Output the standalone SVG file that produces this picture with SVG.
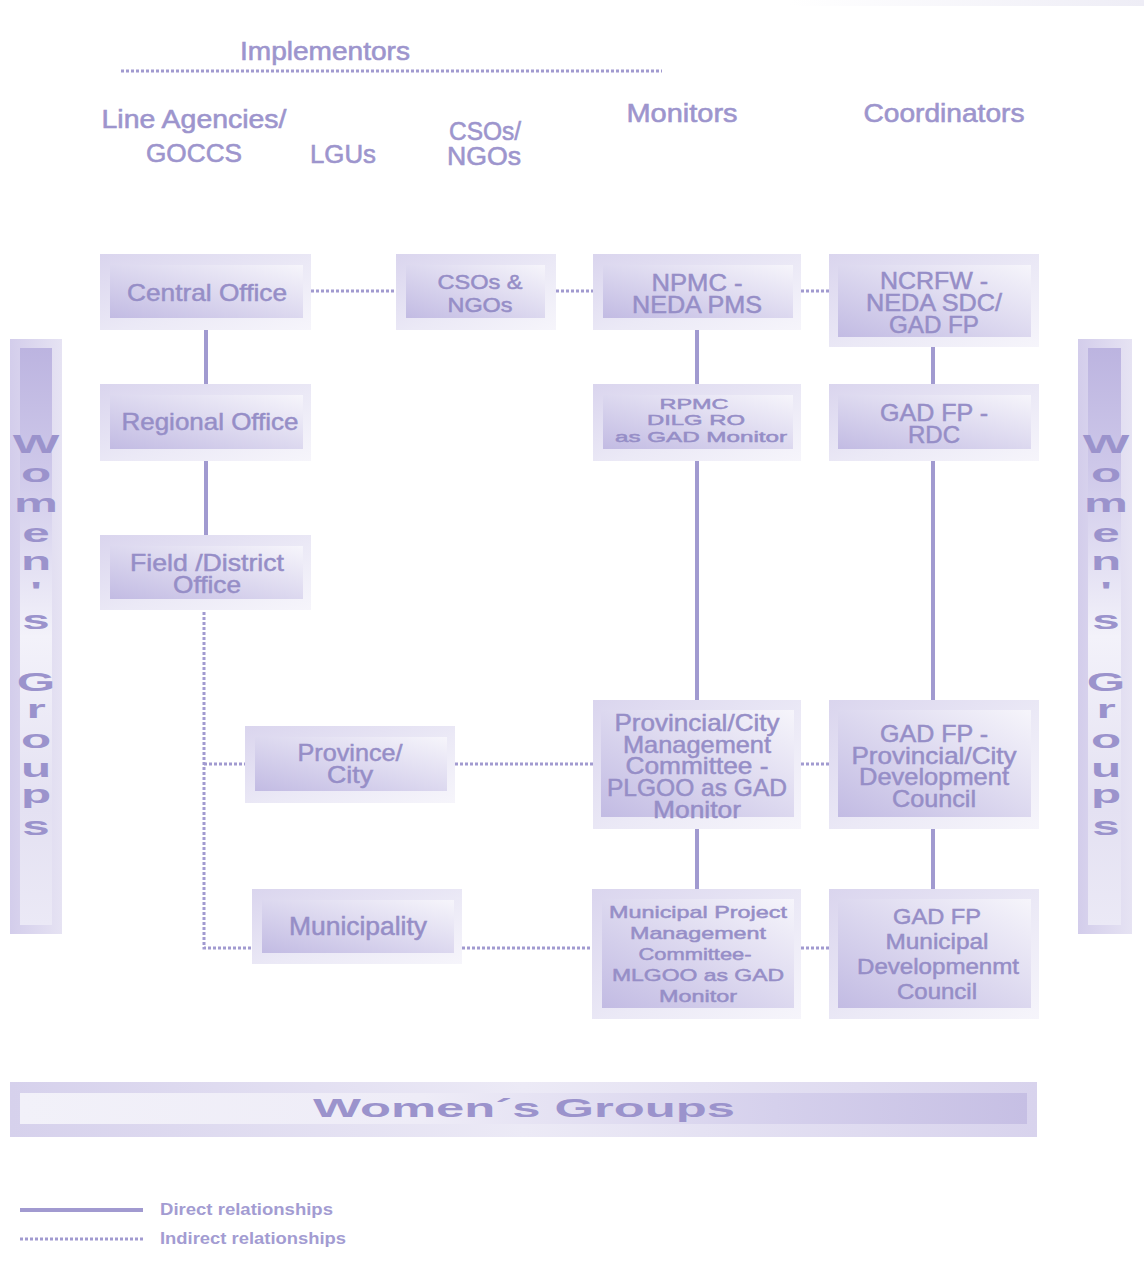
<svg xmlns="http://www.w3.org/2000/svg" width="1144" height="1270" viewBox="0 0 1144 1270">
<defs>
<linearGradient id="outerG" x1="0" y1="0" x2="1" y2="1">
<stop offset="0" stop-color="#dad5ee"/><stop offset="0.55" stop-color="#ebe9f6"/><stop offset="1" stop-color="#f6f5fb"/>
</linearGradient>
<linearGradient id="innerG" x1="0" y1="1" x2="1" y2="0">
<stop offset="0" stop-color="#c2bbe3"/><stop offset="0.5" stop-color="#dcd8ef"/><stop offset="1" stop-color="#f6f5fb"/>
</linearGradient>
<linearGradient id="vOuter" x1="0" y1="0" x2="1" y2="0">
<stop offset="0" stop-color="#d3cdeb"/><stop offset="1" stop-color="#e6e3f3"/>
</linearGradient>
<linearGradient id="vInner" x1="0" y1="0" x2="0" y2="1">
<stop offset="0" stop-color="#bcb4e0"/><stop offset="0.2" stop-color="#cdc7e9"/><stop offset="0.5" stop-color="#f3f2fa"/><stop offset="0.8" stop-color="#e4e1f2"/><stop offset="1" stop-color="#ebe9f6"/>
</linearGradient>
<linearGradient id="hOuter" x1="0" y1="0" x2="1" y2="0">
<stop offset="0" stop-color="#d6d1ec"/><stop offset="0.5" stop-color="#eceaf6"/><stop offset="1" stop-color="#d8d3ed"/>
</linearGradient>
<linearGradient id="hInner" x1="0" y1="0" x2="1" y2="0">
<stop offset="0" stop-color="#f2f1f9"/><stop offset="0.4" stop-color="#eeecf7"/><stop offset="0.75" stop-color="#d5d0ec"/><stop offset="1" stop-color="#c6bfe4"/>
</linearGradient>
<linearGradient id="topG" x1="0" y1="0" x2="1" y2="0">
<stop offset="0" stop-color="#ffffff"/><stop offset="1" stop-color="#eeedf6"/>
</linearGradient>
</defs>
<style>
.o{fill:url(#outerG)}
.i{fill:url(#innerG)}
.t{font-family:"Liberation Sans",Arial,sans-serif;fill:#968ec7;stroke:#968ec7;stroke-width:0.5;text-anchor:middle}
.h{font-family:"Liberation Sans",Arial,sans-serif;fill:#9d95cd;stroke:#9d95cd;stroke-width:0.6;font-size:26px;text-anchor:middle}
.w{font-family:"Liberation Sans",Arial,sans-serif;font-weight:bold;fill:#9b93cc;font-size:26px;text-anchor:middle}
.s{stroke:#a19ad0;stroke-width:4;fill:none}
.d{stroke:#a19ad0;stroke-width:3;stroke-dasharray:3 2;fill:none}
.l{font-family:"Liberation Sans",Arial,sans-serif;font-weight:bold;fill:#a39cd2;font-size:17px}
</style>
<rect x="790" y="0" width="354" height="6" fill="url(#topG)"/>

<g id="headers">
<text class="h" x="325" y="60" textLength="170" lengthAdjust="spacingAndGlyphs">Implementors</text>
<line class="d" x1="121" y1="71" x2="662" y2="71"/>
<text class="h" x="194" y="128" textLength="185" lengthAdjust="spacingAndGlyphs">Line Agencies/</text>
<text class="h" x="194" y="162" textLength="96" lengthAdjust="spacingAndGlyphs">GOCCS</text>
<text class="h" x="343" y="163" textLength="66" lengthAdjust="spacingAndGlyphs">LGUs</text>
<text class="h" x="485" y="140" font-size="25" textLength="72" lengthAdjust="spacingAndGlyphs">CSOs/</text>
<text class="h" x="484" y="165" font-size="25" textLength="74" lengthAdjust="spacingAndGlyphs">NGOs</text>
<text class="h" x="682" y="122" textLength="111" lengthAdjust="spacingAndGlyphs">Monitors</text>
<text class="h" x="944" y="122" textLength="161" lengthAdjust="spacingAndGlyphs">Coordinators</text>
</g>

<g id="connectors">
<line class="s" x1="206" y1="330" x2="206" y2="384"/>
<line class="s" x1="206" y1="461" x2="206" y2="535"/>
<polyline class="d" points="204,612 204,948 252,948"/>
<line class="d" x1="204" y1="764" x2="245" y2="764"/>
<line class="d" x1="311" y1="291" x2="396" y2="291"/>
<line class="d" x1="556" y1="291" x2="593" y2="291"/>
<line class="d" x1="801" y1="291" x2="829" y2="291"/>
<line class="s" x1="697" y1="330" x2="697" y2="384"/>
<line class="s" x1="697" y1="461" x2="697" y2="700"/>
<line class="s" x1="697" y1="829" x2="697" y2="889"/>
<line class="s" x1="933" y1="347" x2="933" y2="384"/>
<line class="s" x1="933" y1="461" x2="933" y2="700"/>
<line class="s" x1="933" y1="829" x2="933" y2="889"/>
<line class="d" x1="455" y1="764" x2="593" y2="764"/>
<line class="d" x1="801" y1="764" x2="829" y2="764"/>
<line class="d" x1="462" y1="948" x2="592" y2="948"/>
<line class="d" x1="801" y1="948" x2="829" y2="948"/>
</g>

<g id="central-office">
<rect class="o" x="100" y="254" width="211" height="76"/><rect class="i" x="110" y="265" width="193" height="53"/>
<text class="t" x="207" y="301" font-size="24" textLength="160" lengthAdjust="spacingAndGlyphs">Central Office</text>
</g>
<g id="regional-office">
<rect class="o" x="100" y="384" width="211" height="77"/><rect class="i" x="110" y="395" width="193" height="54"/>
<text class="t" x="210" y="430" font-size="24" textLength="177" lengthAdjust="spacingAndGlyphs">Regional Office</text>
</g>
<g id="field-office">
<rect class="o" x="100" y="535" width="211" height="75"/><rect class="i" x="110" y="546" width="193" height="53"/>
<text class="t" font-size="24"><tspan x="207" y="571" textLength="154" lengthAdjust="spacingAndGlyphs">Field /District</tspan><tspan x="207" y="593" textLength="68" lengthAdjust="spacingAndGlyphs">Office</tspan></text>
</g>
<g id="csos-ngos">
<rect class="o" x="396" y="254" width="160" height="76"/><rect class="i" x="406" y="265" width="139" height="53"/>
<text class="t" font-size="20"><tspan x="480" y="289" textLength="85" lengthAdjust="spacingAndGlyphs">CSOs &amp;</tspan><tspan x="480" y="312" textLength="65" lengthAdjust="spacingAndGlyphs">NGOs</tspan></text>
</g>
<g id="npmc">
<rect class="o" x="593" y="254" width="208" height="76"/><rect class="i" x="603" y="265" width="190" height="53"/>
<text class="t" font-size="24"><tspan x="697" y="291" textLength="91" lengthAdjust="spacingAndGlyphs">NPMC -</tspan><tspan x="697" y="313" textLength="130" lengthAdjust="spacingAndGlyphs">NEDA PMS</tspan></text>
</g>
<g id="ncrfw">
<rect class="o" x="829" y="254" width="210" height="93"/><rect class="i" x="838" y="265" width="193" height="72"/>
<text class="t" font-size="23"><tspan x="934" y="289" textLength="108" lengthAdjust="spacingAndGlyphs">NCRFW -</tspan><tspan x="934" y="311" textLength="136" lengthAdjust="spacingAndGlyphs">NEDA SDC/</tspan><tspan x="934" y="333" textLength="90" lengthAdjust="spacingAndGlyphs">GAD FP</tspan></text>
</g>
<g id="rpmc">
<rect class="o" x="593" y="384" width="208" height="77"/><rect class="i" x="603" y="395" width="190" height="54"/>
<text class="t" font-size="15"><tspan x="694" y="409" textLength="69" lengthAdjust="spacingAndGlyphs">RPMC</tspan><tspan x="696" y="425" textLength="98" lengthAdjust="spacingAndGlyphs">DILG RO</tspan><tspan x="701" y="442" textLength="172" lengthAdjust="spacingAndGlyphs">as GAD Monitor</tspan></text>
</g>
<g id="gad-rdc">
<rect class="o" x="829" y="384" width="210" height="77"/><rect class="i" x="838" y="395" width="193" height="54"/>
<text class="t" font-size="24"><tspan x="934" y="421" textLength="108" lengthAdjust="spacingAndGlyphs">GAD FP -</tspan><tspan x="934" y="443" textLength="52" lengthAdjust="spacingAndGlyphs">RDC</tspan></text>
</g>
<g id="province-city">
<rect class="o" x="245" y="726" width="210" height="77"/><rect class="i" x="255" y="737" width="192" height="54"/>
<text class="t" font-size="24"><tspan x="350" y="761" textLength="105" lengthAdjust="spacingAndGlyphs">Province/</tspan><tspan x="350" y="783" textLength="46" lengthAdjust="spacingAndGlyphs">City</tspan></text>
</g>
<g id="provincial-committee">
<rect class="o" x="593" y="700" width="208" height="129"/><rect class="i" x="601" y="710" width="193" height="107"/>
<text class="t" font-size="24"><tspan x="697" y="731" textLength="165" lengthAdjust="spacingAndGlyphs">Provincial/City</tspan><tspan x="697" y="753" textLength="148" lengthAdjust="spacingAndGlyphs">Management</tspan><tspan x="697" y="774" textLength="143" lengthAdjust="spacingAndGlyphs">Committee -</tspan><tspan x="697" y="796" textLength="180" lengthAdjust="spacingAndGlyphs">PLGOO as GAD</tspan><tspan x="697" y="818" textLength="88" lengthAdjust="spacingAndGlyphs">Monitor</tspan></text>
</g>
<g id="gad-provincial">
<rect class="o" x="829" y="700" width="210" height="129"/><rect class="i" x="838" y="710" width="193" height="107"/>
<text class="t" font-size="24"><tspan x="934" y="742" textLength="108" lengthAdjust="spacingAndGlyphs">GAD FP -</tspan><tspan x="934" y="764" textLength="165" lengthAdjust="spacingAndGlyphs">Provincial/City</tspan><tspan x="934" y="785" textLength="150" lengthAdjust="spacingAndGlyphs">Development</tspan><tspan x="934" y="807" textLength="84" lengthAdjust="spacingAndGlyphs">Council</tspan></text>
</g>
<g id="municipality">
<rect class="o" x="252" y="889" width="210" height="75"/><rect class="i" x="262" y="900" width="192" height="53"/>
<text class="t" x="358" y="935" font-size="25" textLength="138" lengthAdjust="spacingAndGlyphs">Municipality</text>
</g>
<g id="municipal-committee">
<rect class="o" x="592" y="889" width="209" height="130"/><rect class="i" x="602" y="899" width="192" height="109"/>
<text class="t" font-size="17"><tspan x="698" y="918" textLength="178" lengthAdjust="spacingAndGlyphs">Municipal Project</tspan><tspan x="698" y="939" textLength="136" lengthAdjust="spacingAndGlyphs">Management</tspan><tspan x="695" y="960" textLength="113" lengthAdjust="spacingAndGlyphs">Committee-</tspan><tspan x="698" y="981" textLength="172" lengthAdjust="spacingAndGlyphs">MLGOO as GAD</tspan><tspan x="698" y="1002" textLength="78" lengthAdjust="spacingAndGlyphs">Monitor</tspan></text>
</g>
<g id="gad-municipal">
<rect class="o" x="829" y="889" width="210" height="130"/><rect class="i" x="838" y="899" width="193" height="109"/>
<text class="t" font-size="22"><tspan x="937" y="924" textLength="88" lengthAdjust="spacingAndGlyphs">GAD FP</tspan><tspan x="937" y="949" textLength="103" lengthAdjust="spacingAndGlyphs">Municipal</tspan><tspan x="938" y="974" textLength="162" lengthAdjust="spacingAndGlyphs">Developmenmt</tspan><tspan x="937" y="999" textLength="80" lengthAdjust="spacingAndGlyphs">Council</tspan></text>
</g>

<g id="womens-groups-left">
<rect x="10" y="339" width="52" height="595" fill="url(#vOuter)"/>
<rect x="20" y="348" width="32" height="577" fill="url(#vInner)"/>
<g transform="translate(36,0) scale(1.9,1)">
<text class="w"><tspan x="0" y="453">W</tspan><tspan x="0" y="482">o</tspan><tspan x="0" y="512">m</tspan><tspan x="0" y="542">e</tspan><tspan x="0" y="570">n</tspan><tspan x="0" y="600">'</tspan><tspan x="0" y="629">s</tspan><tspan x="0" y="691">G</tspan><tspan x="0" y="718">r</tspan><tspan x="0" y="748">o</tspan><tspan x="0" y="777">u</tspan><tspan x="0" y="803">p</tspan><tspan x="0" y="835">s</tspan></text>
</g>
</g>
<g id="womens-groups-right">
<rect x="1078" y="339" width="54" height="595" fill="url(#vOuter)"/>
<rect x="1088" y="348" width="33" height="577" fill="url(#vInner)"/>
<g transform="translate(1106,0) scale(1.9,1)">
<text class="w"><tspan x="0" y="453">W</tspan><tspan x="0" y="482">o</tspan><tspan x="0" y="512">m</tspan><tspan x="0" y="542">e</tspan><tspan x="0" y="570">n</tspan><tspan x="0" y="600">'</tspan><tspan x="0" y="629">s</tspan><tspan x="0" y="691">G</tspan><tspan x="0" y="718">r</tspan><tspan x="0" y="748">o</tspan><tspan x="0" y="777">u</tspan><tspan x="0" y="803">p</tspan><tspan x="0" y="835">s</tspan></text>
</g>
</g>
<g id="womens-groups-bottom">
<rect x="10" y="1082" width="1027" height="55" fill="url(#hOuter)"/>
<rect x="20" y="1093" width="1007" height="31" fill="url(#hInner)"/>
<text class="w" x="524" y="1117" font-size="28" textLength="422" lengthAdjust="spacingAndGlyphs">Women´s Groups</text>
</g>

<g id="legend">
<line class="s" x1="20" y1="1210" x2="143" y2="1210"/>
<line class="d" x1="20" y1="1239" x2="143" y2="1239"/>
<text class="l" x="160" y="1215" textLength="173" lengthAdjust="spacingAndGlyphs">Direct relationships</text>
<text class="l" x="160" y="1244" textLength="186" lengthAdjust="spacingAndGlyphs">Indirect relationships</text>
</g>
</svg>
